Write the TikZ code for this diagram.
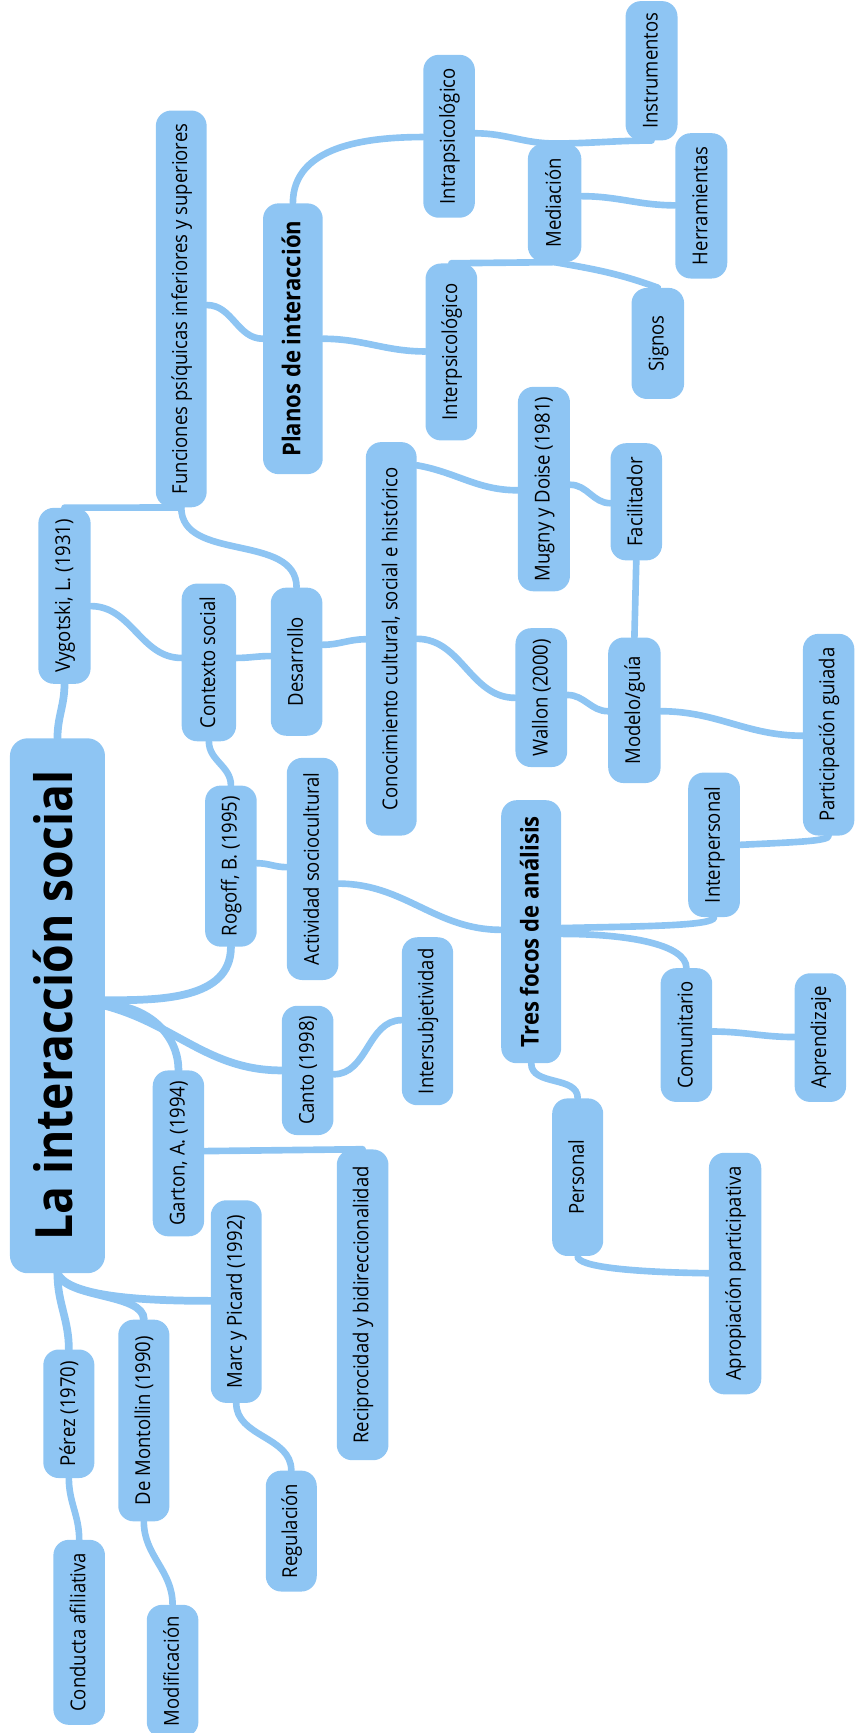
\documentclass[tikz,border=0pt]{standalone}
\usepackage{fontspec}
\usepackage{graphicx}
\newfontfamily\nf[FakeStretch=0.9]{Open Sans}
\definecolor{nblue}{RGB}{142,197,243}
\pgfdeclarelayer{bg}
\pgfsetlayers{bg,main}
\newcommand{\rt}[1]{\rotatebox{90}{\rule[-0.2em]{0pt}{1em}#1}}
\newcommand\mn[7]{\node[#1,minimum width={(#4-#3)*1pt},minimum height={(#6-#5)*1pt}] (#2) at ({(#3+#4)/2},{-(#5+#6)/2}) {\rt{#7}};}
\tikzset{
  nbox/.style={fill=nblue, draw=none, rounded corners=14pt, inner sep=0pt, text=black,
    font=\nf\fontsize{18.6}{20}\selectfont},
  hbox/.style={nbox, font=\nf\bfseries\fontsize{22.2}{24}\selectfont},
  rootbox/.style={nbox, rounded corners=16pt, font=\nf\bfseries\fontsize{46.5}{50}\selectfont},
  cn/.style={draw=nblue, line width=6pt, line cap=round},
  cr/.style={draw=nblue, line width=7pt, line cap=round}
}
\begin{document}
\begin{tikzpicture}[x=1pt,y=1pt]
\useasboundingbox (0,0) rectangle (773,-1568);
\mn{rootbox}{root}{9}{95}{668}{1152}{La interacción social}
\mn{nbox}{vyg}{34.7}{82}{459.5}{618.7}{Vygotski, L. (1931)}
\mn{nbox}{fun}{141}{187}{100}{459}{Funciones psíquicas inferiores y superiores}
\mn{hbox}{planos}{238}{292}{184}{429}{Planos de interacción}
\mn{nbox}{intra}{383}{429.7}{49.6}{197}{Intrapsicológico}
\mn{nbox}{inter}{385}{431.8}{238.4}{398.5}{Interpsicológico}
\mn{nbox}{med}{477.6}{526}{130}{237}{Mediación}
\mn{nbox}{instr}{566}{613}{1}{127}{Instrumentos}
\mn{nbox}{herr}{611}{658}{120.5}{252}{Herramientas}
\mn{nbox}{signos}{571.4}{619}{260.5}{361}{Signos}
\mn{nbox}{mugny}{468.6}{515.7}{350}{535}{Mugny y Doise (1981)}
\mn{nbox}{facil}{552.4}{599}{401}{507}{Facilitador}
\mn{nbox}{ctx}{164.4}{213.6}{528}{670.7}{Contexto social}
\mn{nbox}{desa}{245}{291.7}{531.7}{665.7}{Desarrollo}
\mn{nbox}{cono}{331}{377}{400}{756}{Conocimiento cultural, social e histórico}
\mn{nbox}{wallon}{466.4}{513.2}{568.4}{694}{Wallon (2000)}
\mn{nbox}{modelo}{550.3}{597.7}{576.8}{708.5}{Modelo/guía}
\mn{nbox}{parti}{726.5}{773}{573.5}{756}{Participación guiada}
\mn{nbox}{rogoff}{185.6}{232.3}{710.8}{856.5}{Rogoff, B. (1995)}
\mn{nbox}{activ}{259.5}{306.2}{685.7}{886.7}{Actividad sociocultural}
\mn{hbox}{tres}{453.5}{507.8}{724}{962}{Tres focos de análisis}
\mn{nbox}{interp}{622.7}{669.5}{699}{829.7}{Interpersonal}
\mn{nbox}{comu}{597.7}{644.4}{876}{997}{Comunitario}
\mn{nbox}{apre}{719}{765.5}{880.6}{997}{Aprendizaje}
\mn{nbox}{intersub}{363.6}{410}{848}{1000}{Intersubjetividad}
\mn{nbox}{canto}{255}{301.7}{910}{1027}{Canto (1998)}
\mn{nbox}{garton}{138.2}{184.7}{968.5}{1118.6}{Garton, A. (1994)}
\mn{nbox}{recip}{304.7}{351.5}{1040}{1321.2}{Reciprocidad y bidireccionalidad}
\mn{nbox}{personal}{499.6}{545.8}{993.8}{1136.4}{Personal}
\mn{nbox}{apro}{641.4}{688.8}{1043}{1261.6}{Apropiación participativa}
\mn{nbox}{marc}{190.7}{236.8}{1086}{1269.3}{Marc y Picard (1992)}
\mn{nbox}{perez}{39.2}{85.4}{1221}{1337.3}{Pérez (1970)}
\mn{nbox}{demont}{107}{153.3}{1194}{1376.5}{De Montollin (1990)}
\mn{nbox}{regul}{240.5}{286.6}{1330.6}{1440}{Regulación}
\mn{nbox}{conducta}{48.3}{95}{1393.2}{1560.6}{Conducta afiliativa}
\mn{nbox}{modif}{132.8}{179.5}{1452}{1572}{Modificación}
\begin{pgfonlayer}{bg}
\draw[cr] (root.north) to[out=90,in=-90] (vyg.south);
\draw[cr] (root.east |- 0,-905) to[out=0,in=-90] (rogoff.south);
\draw[cr] (root.east |- 0,-909) to[out=0,in=90] (garton.north);
\draw[cr] (root.east |- 0,-910) to[out=-15,in=180] (canto.west);
\draw[cr] (root.south) to[out=-90,in=90] (perez.north);
\draw[cr] (root.south) .. controls (60,-1175) and (130,-1170) .. (demont.north);
\draw[cr] (root.south) .. controls (62,-1172) and (120,-1177) .. (marc.west |- 0,-1177);
\draw[cn] (vyg.north) -- (fun.south);
\draw[cn] (vyg.east |- 0,-548.4) to[out=0,in=180] (ctx.west |- 0,-595.3);
\draw[cn] (fun.south) to[out=-90,in=90] (desa.north);
\draw[cn] (fun.east |- 0,-276) to[out=0,in=180] (planos.west);
\draw[cn] (planos.north) to[out=90,in=180] (intra.west |- 0,-124);
\draw[cn] (planos.east) to[out=0,in=180] (inter.west |- 0,-318);
\draw[cn] (intra.east |- 0,-120.6) to[out=0,in=180] (med.north);
\draw[cn] (med.north) to[out=0,in=180] (instr.south);
\draw[cn] (med.east |- 0,-177.5) to[out=0,in=180] (herr.west |- 0,-185.8);
\draw[cn] (med.south) -- (inter.north);
\draw[cn] (med.south) to[out=-10,in=160] (signos.north);
\draw[cn] (ctx.east |- 0,-595.3) to[out=0,in=180] (desa.west |- 0,-593.6);
\draw[cn] (desa.east |- 0,-583.4) to[out=0,in=180] (cono.west |- 0,-578.4);
\draw[cn] (cono.east |- 0,-421) to[out=-10,in=180] (mugny.west |- 0,-443.6);
\draw[cn] (cono.east) to[out=0,in=180] (wallon.west |- 0,-631.4);
\draw[cn] (mugny.east |- 0,-438.6) to[out=0,in=180] (facil.west |- 0,-455.3);
\draw[cn] (facil.south) -- (modelo.north);
\draw[cn] (wallon.east |- 0,-628.8) to[out=0,in=180] (modelo.west |- 0,-643.5);
\draw[cn] (modelo.east |- 0,-643.5) to[out=0,in=180] (parti.west |- 0,-665.7);
\draw[cn] (interp.east |- 0,-764.4) .. controls (720,-762) and (750,-761) .. (parti.south);
\draw[cn] (ctx.south) to[out=-90,in=90] (rogoff.north);
\draw[cn] (rogoff.east |- 0,-781) to[out=0,in=180] (activ.west |- 0,-784.6);
\draw[cn] (activ.east |- 0,-799.5) to[out=0,in=180] (tres.west |- 0,-841.3);
\draw[cn] (tres.east |- 0,-839.7) .. controls (580,-838) and (646,-838) .. (interp.south);
\draw[cn] (tres.east |- 0,-845) .. controls (570,-845) and (621,-855) .. (comu.north);
\draw[cn] (comu.east |- 0,-933.3) to[out=0,in=180] (apre.west |- 0,-938.3);
\draw[cn] (tres.south) to[out=-90,in=90] (personal.north);
\draw[cn] (personal.south) .. controls (522,-1146) and (570,-1151) .. (apro.west |- 0,-1152);
\draw[cn] (canto.east |- 0,-972) to[out=0,in=180] (intersub.west |- 0,-923);
\draw[cn] (garton.east |- 0,-1041.5) -- (recip.north);
\draw[cn] (marc.south) to[out=-90,in=90] (regul.north);
\draw[cn] (perez.south) to[out=-90,in=90] (conducta.north);
\draw[cn] (demont.south) to[out=-90,in=90] (modif.north);
\end{pgfonlayer}
\end{tikzpicture}
\end{document}
